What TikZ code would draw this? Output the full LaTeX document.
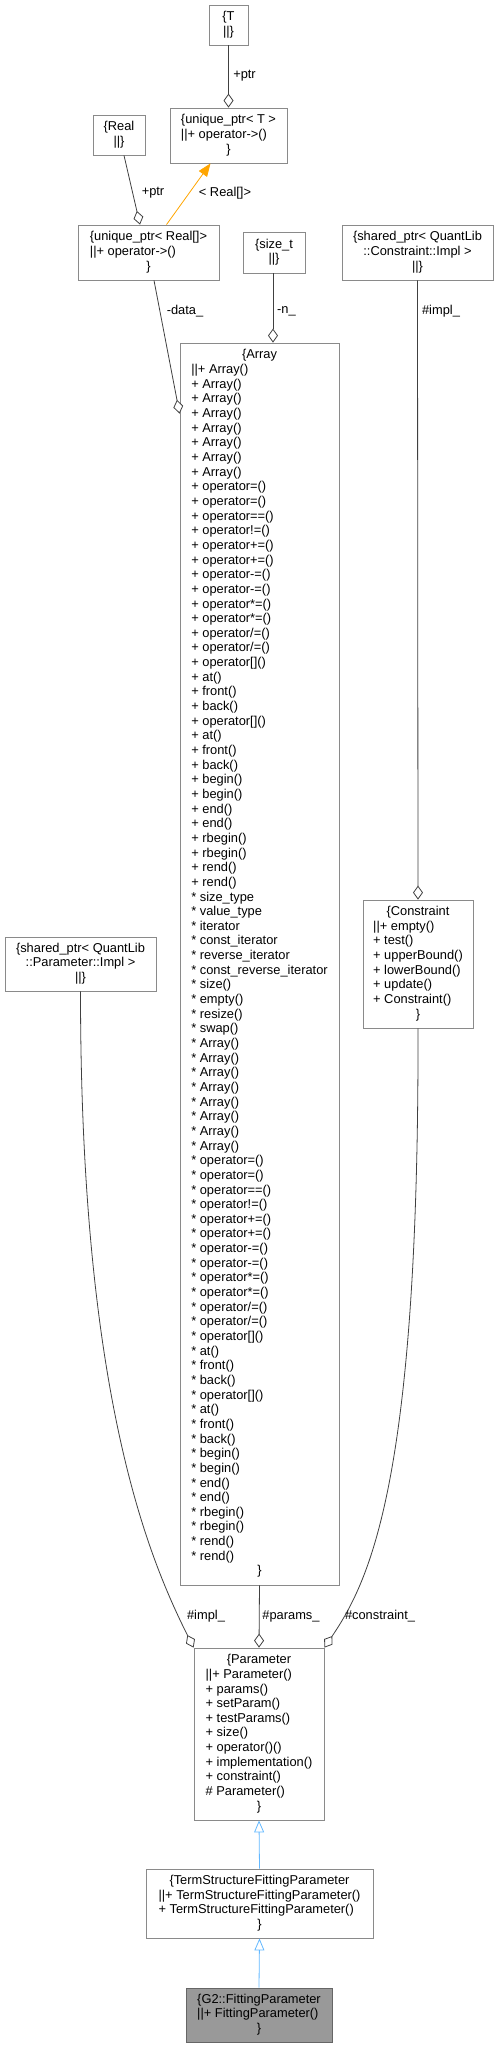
\documentclass[tikz,border=0pt]{standalone}
\usepackage{fontspec}
\setmainfont{Liberation Sans}
\usepackage{xcolor}
\usetikzlibrary{arrows.meta}
\definecolor{edgegray}{HTML}{404040}
\definecolor{boxgray}{HTML}{8A8A8A}
\definecolor{inherit}{HTML}{63B8FF}
\definecolor{tmplorange}{HTML}{FFA500}
\newcommand{\dgfont}{\fontsize{12.85}{14.65}\selectfont}
\newcommand{\ctr}[1]{\multicolumn{1}{@{}c@{}}{#1}}
\tikzstyle{cls} = [rectangle, draw=boxgray, fill=white, line width=0.8pt,
                   inner sep=0pt, font=\dgfont]
\tikzstyle{current} = [cls, draw=black!60, fill=black!40]
\tikzstyle{lbl} = [inner sep=0pt, font=\dgfont]
\tikzstyle{aggr} = [draw=edgegray, line width=0.8pt,
                    -{Diamond[length=14pt, width=10pt, fill=white]}]
\tikzstyle{inh} = [draw=inherit, line width=0.8pt,
                   -{Triangle[open, length=12pt, width=10pt]}]
\tikzstyle{tmpl} = [draw=tmplorange, line width=0.8pt,
                    -{Triangle[length=13pt, width=10pt]}]

\begin{document}
\begin{tikzpicture}[x=1pt, y=-1pt]
    \useasboundingbox (0,0) rectangle (499,2048);

    \node[cls, minimum width=39pt, minimum height=40pt] (t) at (228.5,25)
        {\begin{tabular}{@{}c@{}}\{T\\||\}\end{tabular}};
    \node[cls, minimum width=117pt, minimum height=55pt] (uptrt) at (228.5,135.5)
        {\begin{tabular}{@{}l@{}}\ctr{\{unique\_ptr< T >}\\||+ operator->()\\\ctr{\}}\end{tabular}};
    \node[cls, minimum width=52pt, minimum height=40pt] (real) at (119,135)
        {\begin{tabular}{@{}c@{}}\{Real\\||\}\end{tabular}};
    \node[cls, minimum width=141pt, minimum height=55pt] (uptrreal) at (148.5,252.5)
        {\begin{tabular}{@{}l@{}}\ctr{\{unique\_ptr< Real[]>}\\||+ operator->()\\\ctr{\}}\end{tabular}};
    \node[cls, minimum width=62pt, minimum height=41pt] (sizet) at (274,252.5)
        {\begin{tabular}{@{}c@{}}\{size\_t\\||\}\end{tabular}};
    \node[cls, minimum width=151pt, minimum height=55pt] (spcon) at (417.5,252.5)
        {\begin{tabular}{@{}c@{}}\{shared\_ptr< QuantLib\\::Constraint::Impl >\\||\}\end{tabular}};

    \node[cls, minimum width=159pt, minimum height=1242pt] (array) at (259.5,964)
        {\begin{tabular}{@{}l@{}}
        \ctr{\{Array}\\
        ||+ Array()\\
        + Array()\\
        + Array()\\
        + Array()\\
        + Array()\\
        + Array()\\
        + Array()\\
        + Array()\\
        + operator=()\\
        + operator=()\\
        + operator==()\\
        + operator!=()\\
        + operator+=()\\
        + operator+=()\\
        + operator-=()\\
        + operator-=()\\
        + operator*=()\\
        + operator*=()\\
        + operator/=()\\
        + operator/=()\\
        + operator[]()\\
        + at()\\
        + front()\\
        + back()\\
        + operator[]()\\
        + at()\\
        + front()\\
        + back()\\
        + begin()\\
        + begin()\\
        + end()\\
        + end()\\
        + rbegin()\\
        + rbegin()\\
        + rend()\\
        + rend()\\
        {*} size\_type\\
        {*} value\_type\\
        {*} iterator\\
        {*} const\_iterator\\
        {*} reverse\_iterator\\
        {*} const\_reverse\_iterator\\
        {*} size()\\
        {*} empty()\\
        {*} resize()\\
        {*} swap()\\
        {*} Array()\\
        {*} Array()\\
        {*} Array()\\
        {*} Array()\\
        {*} Array()\\
        {*} Array()\\
        {*} Array()\\
        {*} Array()\\
        {*} operator=()\\
        {*} operator=()\\
        {*} operator==()\\
        {*} operator!=()\\
        {*} operator+=()\\
        {*} operator+=()\\
        {*} operator-=()\\
        {*} operator-=()\\
        {*} operator*=()\\
        {*} operator*=()\\
        {*} operator/=()\\
        {*} operator/=()\\
        {*} operator[]()\\
        {*} at()\\
        {*} front()\\
        {*} back()\\
        {*} operator[]()\\
        {*} at()\\
        {*} front()\\
        {*} back()\\
        {*} begin()\\
        {*} begin()\\
        {*} end()\\
        {*} end()\\
        {*} rbegin()\\
        {*} rbegin()\\
        {*} rend()\\
        {*} rend()\\
        \ctr{\}}
        \end{tabular}};

    \node[cls, minimum width=151pt, minimum height=54pt] (sppar) at (80.5,964)
        {\begin{tabular}{@{}c@{}}\{shared\_ptr< QuantLib\\::Parameter::Impl >\\||\}\end{tabular}};
    \node[cls, minimum width=110pt, minimum height=128pt] (constraint) at (418,964)
        {\begin{tabular}{@{}l@{}}\ctr{\{Constraint}\\||+ empty()\\+ test()\\+ upperBound()\\
        + lowerBound()\\+ update()\\+ Constraint()\\\ctr{\}}\end{tabular}};
    \node[cls, minimum width=130pt, minimum height=172pt] (param) at (259,1734)
        {\begin{tabular}{@{}l@{}}\ctr{\{Parameter}\\||+ Parameter()\\+ params()\\+ setParam()\\
        + testParams()\\+ size()\\+ operator()()\\+ implementation()\\+ constraint()\\
        \# Parameter()\\\ctr{\}}\end{tabular}};
    \node[cls, minimum width=227pt, minimum height=69pt] (tsfp) at (259.5,1903.5)
        {\begin{tabular}{@{}l@{}}\ctr{\{TermStructureFittingParameter}\\
        ||+ TermStructureFittingParameter()\\+ TermStructureFittingParameter()\\\ctr{\}}\end{tabular}};
    \node[current, minimum width=146pt, minimum height=54pt] (g2) at (259,2015)
        {\begin{tabular}{@{}l@{}}\ctr{\{G2::FittingParameter}\\||+ FittingParameter()\\\ctr{\}}\end{tabular}};

    % members
    \draw[aggr] (t.south) -- (uptrt.north);
    \draw[aggr] ([xshift=5pt]real.south) -- ([xshift=-8.5pt]uptrreal.north);
    \draw[tmpl] ([xshift=18pt]uptrreal.north) -- ([xshift=-18pt]uptrt.south);
    \draw[aggr] ([xshift=5.5pt]uptrreal.south) -- ([yshift=-71pt]array.north west);
    \draw[aggr] ([xshift=-1pt]sizet.south) -- ([xshift=13.5pt]array.north);
    \draw[aggr] (spcon.south) -- (constraint.north);
    \draw[aggr] (sppar.south) .. controls (80.5,1400) and (150,1560) .. (param.north west);
    \draw[aggr] (array.south) -- (param.north);
    \draw[aggr] (constraint.south) .. controls (419,1480) and (370,1580) .. (param.north east);

    % inheritance
    \draw[inh] (tsfp.north) -- (param.south);
    \draw[inh] (g2.north) -- (tsfp.south);

    \node[lbl] (lptrt) at (244.5,76) {+ptr};
    \node[lbl] (lptrreal) at (153,193) {+ptr};
    \node[lbl] (ltmpl) at (225,193) {< Real[]>};
    \node[lbl] (ldata) at (185,311) {-data\_};
    \node[lbl] (ln) at (286.5,311) {-n\_};
    \node[lbl] (limplcon) at (441,311) {\#impl\_};
    \node[lbl] (limplpar) at (206,1616) {\#impl\_};
    \node[lbl] (lparams) at (291,1616) {\#params\_};
    \node[lbl] (lconstraint) at (380,1616) {\#constraint\_};
\end{tikzpicture}
\end{document}
